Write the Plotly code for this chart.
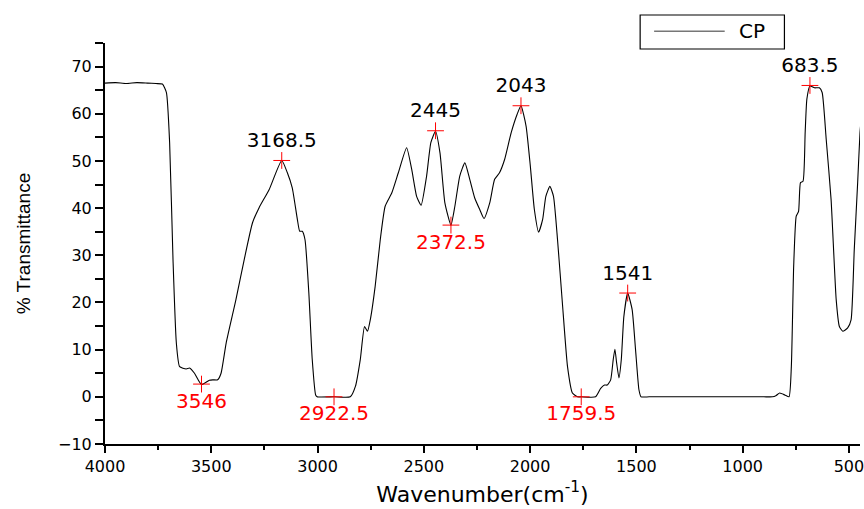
import plotly.graph_objects as go

# FTIR spectrum of CP
wavenumber = [4000, 3950, 3900, 3850, 3800, 3760, 3730, 3711, 3696, 3680, 3664.5, 3649,
              3618, 3602, 3579, 3546, 3509, 3493, 3470, 3454, 3430, 3384, 3345, 3306,
              3275, 3228, 3168.5, 3142, 3119, 3095, 3084, 3072, 3059, 3041, 3025, 3009,
              3002, 2922.5, 2846, 2822, 2799, 2779, 2765, 2752, 2729, 2705, 2682, 2651,
              2620, 2581, 2557, 2534, 2513, 2487, 2467, 2445, 2424, 2401, 2372.5, 2354,
              2331, 2307, 2284, 2261, 2237, 2217, 2190, 2167, 2144, 2120, 2089, 2061,
              2043, 2019, 1999, 1980, 1960, 1941, 1926, 1907, 1890, 1871, 1847, 1824,
              1801, 1777, 1759.5, 1692, 1668, 1650, 1637, 1621, 1609, 1601, 1593, 1582,
              1571, 1559, 1541, 1520, 1504, 1488, 1478, 1440, 1300, 1150, 1000, 900, 860,
              842, 826, 802, 782, 771,
              760, 748, 737, 728, 716, 706, 698, 683.5, 662, 639, 626, 607, 584, 560, 545,
              529, 506, 490, 475, 459, 448, 440]
transmittance = [66.5, 66.6, 66.4, 66.6, 66.5, 66.4, 66.3, 64.5, 53.9, 29.0, 11.5, 6.4,
                 5.9, 6.1, 5.0, 2.6, 3.5, 3.6, 3.6, 5.0, 11.4, 20.6, 29.1, 36.9,
                 40.1, 43.9, 50.1, 47.5, 44.3, 37.6, 35.1, 35.1, 33.3, 22.0, 7.9, 0.4,
                 0.0, 0.0, 0.0, 2.2, 7.9, 14.9, 13.9, 16.3, 23.4, 33.3, 40.4, 43.2,
                 47.5, 52.8, 48.2, 42.5, 40.6, 46.8, 53.9, 56.3, 51.7, 41.1, 36.4, 40.4,
                 46.8, 49.6, 46.1, 42.2, 39.7, 37.8, 41.1, 46.1, 47.5, 50.3, 56.0, 59.9,
                 61.7, 57.4, 48.9, 39.7, 34.9, 37.6, 42.5, 44.6, 42.5, 33.3, 19.2, 6.4,
                 0.8, 0.0, 0.0, 0.0, 1.8, 2.5, 2.5, 3.6, 7.9, 10.1, 7.2, 4.0,
                 7.9, 17.0, 22.0, 18.5, 10.0, 1.5, 0.0, 0.0, 0.0, 0.0, 0.0, 0.0, 0.0,
                 0.3, 0.8, 0.4, 0.0, 6.4,
                 27.7, 38.3, 39.3, 45.4, 45.7, 56.0, 63.1, 65.9, 65.5, 65.5, 64.5, 54.6, 41.8, 20.6, 14.9,
                 13.9, 14.6, 16.3, 31.2, 45.4, 56.0, 60.0]

# labelled maxima (black) and minima (red)
peak_wn = [3168.5, 2445, 2043, 1541, 683.5]
peak_val = [50.1, 56.4, 61.7, 22.0, 66.0]
peak_text = ["3168.5", "2445", "2043", "1541", "683.5"]
trough_wn = [3546, 2922.5, 2372.5, 1759.5]
trough_val = [2.7, 0.0, 36.4, 0.0]
trough_text = ["3546", "2922.5", "2372.5", "1759.5"]

x_ticks = [4000, 3500, 3000, 2500, 2000, 1500, 1000, 500]
y_ticks = [-10, 0, 10, 20, 30, 40, 50, 60, 70]
series_name = "CP"

FONT = "DejaVu Sans"

fig = go.Figure()
fig.add_trace(go.Scatter(
    x=wavenumber, y=transmittance, mode="lines", name=series_name, showlegend=False,
    line=dict(color="black", width=1.1, shape="spline", smoothing=0.5),
))
fig.add_trace(go.Scatter(
    x=peak_wn, y=peak_val, mode="markers+text", text=peak_text,
    textposition="top center", showlegend=False, cliponaxis=False,
    marker=dict(symbol="cross-thin", size=12, line=dict(color="red", width=1)),
    textfont=dict(family=FONT, size=20, color="black"),
))
fig.add_trace(go.Scatter(
    x=trough_wn, y=trough_val, mode="markers+text", text=trough_text,
    textposition="bottom center", showlegend=False, cliponaxis=False,
    marker=dict(symbol="cross-thin", size=12, line=dict(color="red", width=1)),
    textfont=dict(family=FONT, size=20, color="red"),
))

# legend box drawn by hand (paper coordinates)
fig.add_shape(type="rect", xref="paper", yref="paper", x0=0.7088, x1=0.8999, y0=0.985, y1=1.0698,
              line=dict(color="black", width=1.2), fillcolor="white")
fig.add_shape(type="line", xref="paper", yref="paper", x0=0.7273, x1=0.8208, y0=1.029, y1=1.029,
              line=dict(color="#777777", width=1.5))
fig.add_annotation(xref="paper", yref="paper", x=0.8564, y=1.029, text=series_name, showarrow=False,
                   xanchor="center", yanchor="middle", font=dict(family=FONT, size=20, color="black"))

fig.update_layout(
    width=864, height=509,
    margin=dict(l=105, r=0, t=43, b=65),
    paper_bgcolor="white", plot_bgcolor="white",
    font=dict(family=FONT, color="black", size=16),
    showlegend=False,
    xaxis=dict(
        range=[4000, 448], tickmode="array", tickvals=x_ticks,
        ticks="outside", ticklen=7, tickwidth=1.5, tickcolor="black",
        ticklabeloverflow="allow",
        showline=True, linewidth=2, linecolor="black", showgrid=False, zeroline=False,
        minor=dict(dtick=250, ticks="outside", ticklen=4, tickwidth=1.5, tickcolor="black", showgrid=False),
        tickfont=dict(family=FONT, size=16),
        title=dict(text="Wavenumber(cm<sup>-1</sup>)", font=dict(family=FONT, size=22), standoff=11),
    ),
    yaxis=dict(
        range=[-10, 75], tickmode="array", tickvals=y_ticks,
        ticks="outside", ticklen=8, tickwidth=1.5, tickcolor="black",
        showline=True, linewidth=2, linecolor="black", showgrid=False, zeroline=False,
        minor=dict(dtick=5, ticks="outside", ticklen=8, tickwidth=1.5, tickcolor="black", showgrid=False),
        tickfont=dict(family=FONT, size=16),
        title=dict(text="% Transmittance", font=dict(family="Liberation Sans", size=19), standoff=22),
    ),
)

fig.write_html("out.html", config={"displayModeBar": False},
               post_script="document.body.style.margin='0px';")
